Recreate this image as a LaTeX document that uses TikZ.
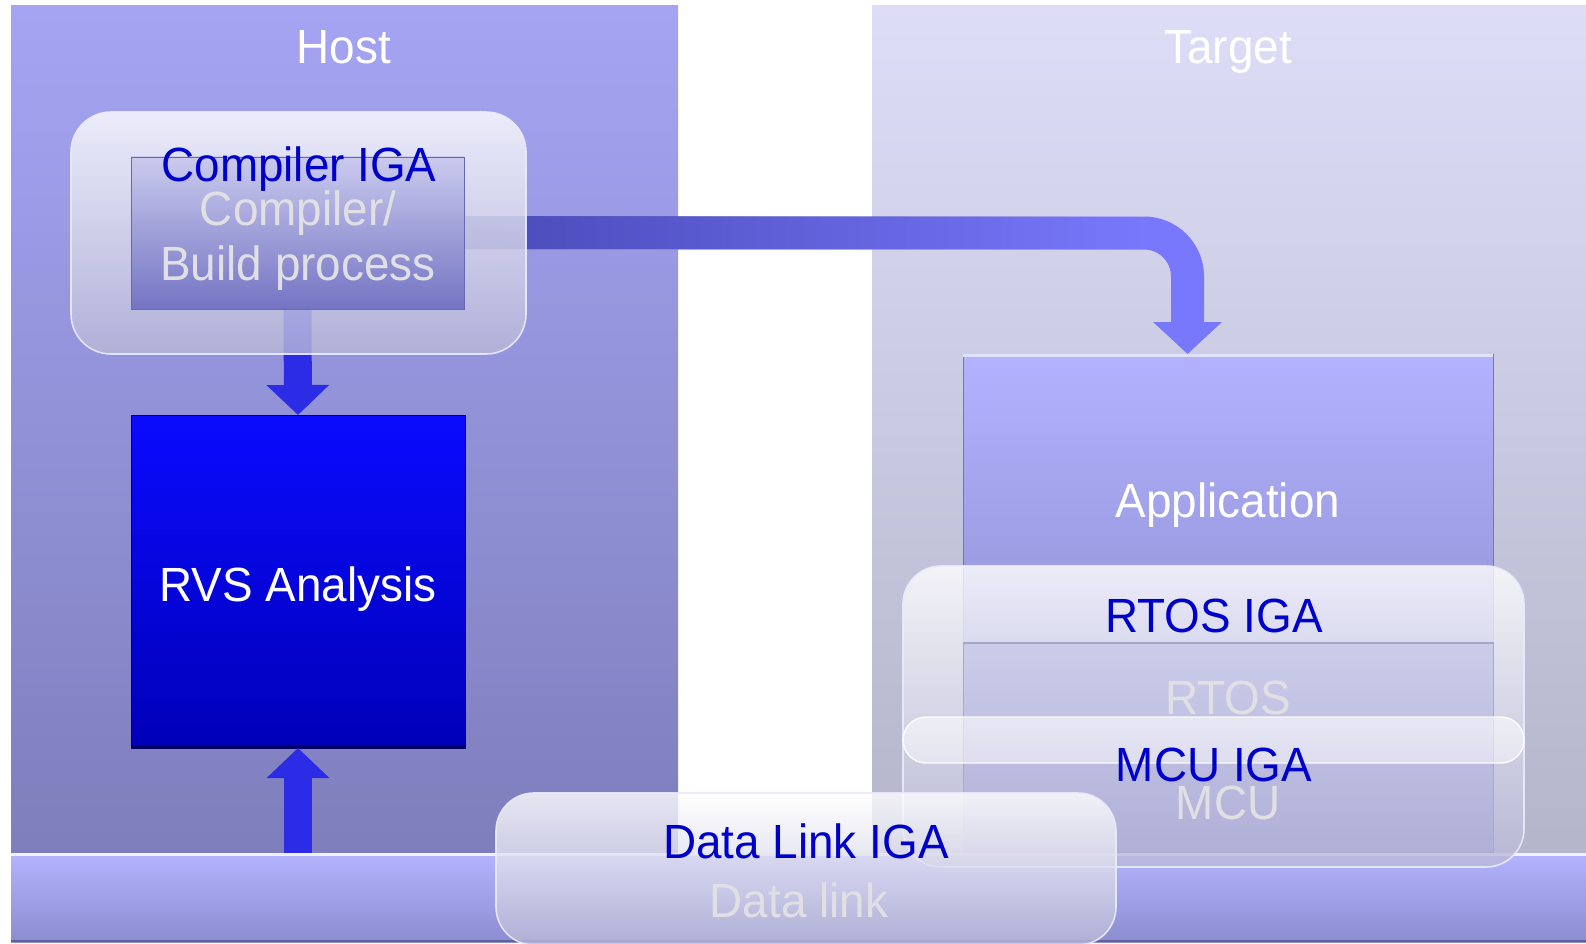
\documentclass[tikz,border=0pt]{standalone}
\usepackage{fontspec}
\setmainfont{Liberation Sans}[FakeStretch=0.955]
\usetikzlibrary{arrows.meta,fadings}
\definecolor{hostT}{HTML}{A4A4F3}
\definecolor{hostB}{HTML}{7E7EBC}
\definecolor{tgtT}{HTML}{DDDDF7}
\definecolor{tgtB}{HTML}{B4B4CA}
\definecolor{barT}{HTML}{B4B4FF}
\definecolor{barB}{HTML}{8C8CD2}
\definecolor{appT}{HTML}{B2B2FF}
\definecolor{appB}{HTML}{9494D8}
\definecolor{rvsT}{HTML}{0A0AFF}
\definecolor{rvsB}{HTML}{0000B8}
\definecolor{arrowblue}{HTML}{2C2CE6}
\definecolor{bigL}{HTML}{4A4AB8}
\definecolor{bigR}{HTML}{7878FC}
\definecolor{ovB}{HTML}{B8B8D8}
\definecolor{cbT}{HTML}{CACAEE}
\definecolor{cbB}{HTML}{7474C4}
\definecolor{rtosT}{HTML}{CCCCEA}
\definecolor{rtosB}{HTML}{B0B0D8}
\definecolor{txtgray}{HTML}{E0E0E4}
\definecolor{igablue}{HTML}{0000CC}
\tikzset{
  box/.style={rectangle, inner sep=0pt, outer sep=0pt},
  igabox/.style={box, rounded corners=#1, top color=white, bottom color=ovB,
    fill opacity=0.8, draw=white!92!blue, draw opacity=0.9, line width=1.6pt},
  lbl/.style={anchor=base, inner sep=0pt, font=\fontsize{48}{56}\selectfont},
  whitelbl/.style={lbl, text=white},
  graylbl/.style={lbl, text=txtgray},
  igalbl/.style={lbl, text=igablue},
  blkarrow/.style={draw=arrowblue, line width=28pt,
    -{Triangle[width=61pt,length=30pt]}},
  bigarrow/.style={draw=bigR, line width=33pt, rounded corners=43.5pt,
    -{Triangle[width=67pt,length=32pt]}},
}
\begin{document}
\begin{tikzpicture}[x=1pt,y=-1pt]
\useasboundingbox (0,0) rectangle (1586,944);
\fill[white] (0,0) rectangle (1586,944);
% panels
\node[box, top color=hostT, bottom color=hostB, minimum width=667pt, minimum height=854pt] (host) at (344.5,433) {};
\node[box, top color=tgtT, bottom color=tgtB, minimum width=714pt, minimum height=854pt] (target) at (1229,433) {};
% bottom bar
\node[box, top color=barT, bottom color=barB, minimum width=1575pt, minimum height=89pt] (bar) at (798.5,897.5) {};
\draw[white!80!barT, line width=3pt] ([yshift=-1.5pt]bar.north west) -- ([yshift=-1.5pt]bar.north east);
\draw[barB!70!black, line width=2pt] ([yshift=1pt]bar.south west) -- ([yshift=1pt]bar.south east);
% application
\node[box, top color=appT, bottom color=appB, draw=appB!80!black, line width=0.8pt, minimum width=530pt, minimum height=296pt] (app) at (1228,502) {};
\draw[white!60!appT, line width=3pt] ([yshift=-1.5pt]app.north west) -- ([yshift=-1.5pt]app.north east);
% RVS analysis
\node[box, top color=rvsT, bottom color=rvsB, draw=rvsB!60!black, line width=1pt, minimum width=334pt, minimum height=333pt] (rvs) at (298,581.5) {};
\draw[rvsB!50!black, line width=3pt] ([yshift=1.5pt]rvs.south west) -- ([yshift=1.5pt]rvs.south east);
% compiler/build box (positioned first for arrow anchors)
\path (297.5,233) node[box, minimum width=333pt, minimum height=152pt] (cbpos) {};
% arrows
\coordinate (bend) at (1187.5,233);
\draw[bigarrow] (cbpos.east) -- (bend) -- (bend |- app.north);
\fill[bigL, path fading=east] ([yshift=16.5pt]cbpos.east) rectangle ([xshift=-48pt,yshift=-16.5pt]bend);
\draw[blkarrow] (cbpos.south) -- (rvs.north);
\draw[blkarrow] (bar.north -| rvs.south) -- (rvs.south);
% compiler IGA overlay and compiler box
\node[igabox=40pt, minimum width=455pt, minimum height=242pt] (cbiga) at (298.5,233) {};
\node[box, top color=cbT, bottom color=cbB, draw=cbB!90!black, line width=0.6pt, minimum width=333pt, minimum height=152pt] (cb) at (297.5,233) {};
% RTOS IGA overlay and RTOS/MCU column
\node[igabox=38pt, minimum width=621pt, minimum height=301pt] (rtosiga) at (1213.5,716.5) {};
\node[box, top color=rtosT, bottom color=rtosB, draw=rtosB!85!gray, line width=1pt, minimum width=530pt, minimum height=210pt] (rtos) at (1228,747) {};
\draw[rtosB!80!gray, line width=2pt] ([yshift=-1pt]rtos.north west) -- ([yshift=-1pt]rtos.north east);
% MCU IGA band
\node[box, rounded corners=23pt, top color=white, bottom color=white!85!ovB, fill opacity=0.6, draw=white, draw opacity=0.9, line width=1.4pt, minimum width=621pt, minimum height=46pt] (mcuiga) at (1213.5,740) {};
% Data link IGA overlay
\node[igabox=38pt, minimum width=620pt, minimum height=152pt] (dliga) at (806,869) {};
% labels
\node[whitelbl] (hostlbl) at (344,64) {Host};
\node[whitelbl] (tgtlbl) at (1228,64) {Target};
\node[graylbl] (cblbla) at (298,225) {Compiler/};
\node[graylbl] (cblblb) at (298,280) {Build process};
\node[igalbl] (cbigalbl) at (299,182) {Compiler IGA};
\node[whitelbl] (rvslbl) at (298,601) {RVS Analysis};
\node[whitelbl] (applbl) at (1228,517) {Application};
\node[igalbl] (rtosigalbl) at (1214,632) {RTOS IGA};
\node[graylbl] (rtoslbl) at (1228,714) {RTOS};
\node[graylbl] (mculbl) at (1228,819) {MCU};
\node[igalbl] (mcuigalbl) at (1214,781) {MCU IGA};
\node[graylbl] (dllbl) at (799,917) {Data link};
\node[igalbl] (dligalbl) at (806,858) {Data Link IGA};
\end{tikzpicture}
\end{document}
